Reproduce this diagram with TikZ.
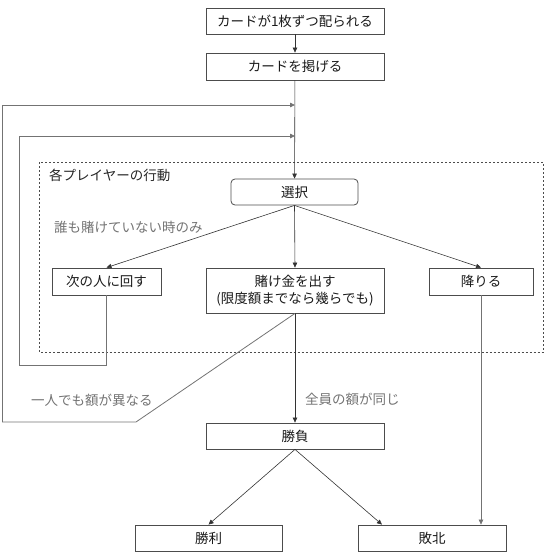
\documentclass[tikz,border=0pt]{standalone}
\usepackage{fontspec}
\setmainfont{Noto Sans CJK JP}
\usetikzlibrary{arrows.meta}

\begin{document}
\begin{tikzpicture}[x=1pt, y=-1pt,
    stepbox/.style={draw=black!70, line width=0.8pt, minimum height=26pt, inner sep=0pt,
        text=black!90, font=\fontsize{13.5}{17}\selectfont},
    note/.style={anchor=west, inner sep=0pt, text=black!55, font=\fontsize{13.5}{17}\selectfont},
    flow/.style={draw=black!80, line width=0.6pt, -{Triangle[length=5pt,width=4.5pt]}},
    backflow/.style={draw=black!55, line width=0.8pt}]

    \useasboundingbox (0,0) rectangle (546,555);

    % group frame
    \draw[black!70, line width=0.7pt, dash pattern=on 2pt off 2pt] (39.5,162) rectangle (543,352);
    \node[note, text=black!85] (lblgroup) at (49,175) {各プレイヤーの行動};

    % steps
    \node[stepbox, minimum width=178pt] (deal) at (295,21) {カードが1枚ずつ配られる};
    \node[stepbox, minimum width=178pt, minimum height=27pt] (show) at (295,66.5) {カードを掲げる};
    \node[stepbox, minimum width=127pt, rounded corners=4pt] (choose) at (294.5,192) {選択};
    \node[stepbox, minimum width=109pt, minimum height=27pt] (pass) at (106.5,281.5) {次の人に回す};
    \node[stepbox, minimum width=178pt, minimum height=45pt, align=center] (bet) at (295,290.5)
        {賭け金を出す\\(限度額までなら幾らでも)};
    \node[stepbox, minimum width=104pt, minimum height=27pt] (fold) at (481,281.5) {降りる};
    \node[stepbox, minimum width=178pt] (match) at (295,436) {勝負};
    \node[stepbox, minimum width=147pt] (win) at (208.5,538) {勝利};
    \node[stepbox, minimum width=148pt] (lose) at (432,538) {敗北};

    % labels
    \node[note] (lblnobet) at (54,227) {誰も賭けていない時のみ};
    \node[note] (lbldiff) at (31,400) {一人でも額が異なる};
    \node[note] (lblsame) at (305,399) {全員の額が同じ};

    % joints of the loops
    \coordinate (j1) at (295,105);
    \coordinate (j2) at (295,136);
    \coordinate (k1) at (136,422);
    \coordinate (c1) at (2,422);
    \coordinate (c2) at (19,365);

    % flow
    \draw[flow] (deal) -- (show);
    \draw[flow] (show) -- (choose);
    \draw[flow] (choose.south) -- (pass.north);
    \draw[flow] (choose.south) -- (bet.north);
    \draw[flow] (choose.south) -- (fold.north);
    \draw[flow] (bet.south) -- (match.north);
    \draw[flow] (match.south) -- (win.north);
    \draw[flow] (match.south) -- ([xshift=-50pt]lose.north);
    \draw[flow, draw=black!55] (fold.south) -- (fold.south |- lose.north);

    % back to the start of the round
    \draw[backflow] (pass.south) |- (c2);
    \draw[backflow, -{Triangle[length=5pt,width=4.5pt]}] (c2) |- (j2);
    \draw[backflow] (bet.south) -- (k1) -- (c1);
    \draw[backflow, -{Triangle[length=5pt,width=4.5pt]}] (c1) |- (j1);
\end{tikzpicture}
\end{document}
